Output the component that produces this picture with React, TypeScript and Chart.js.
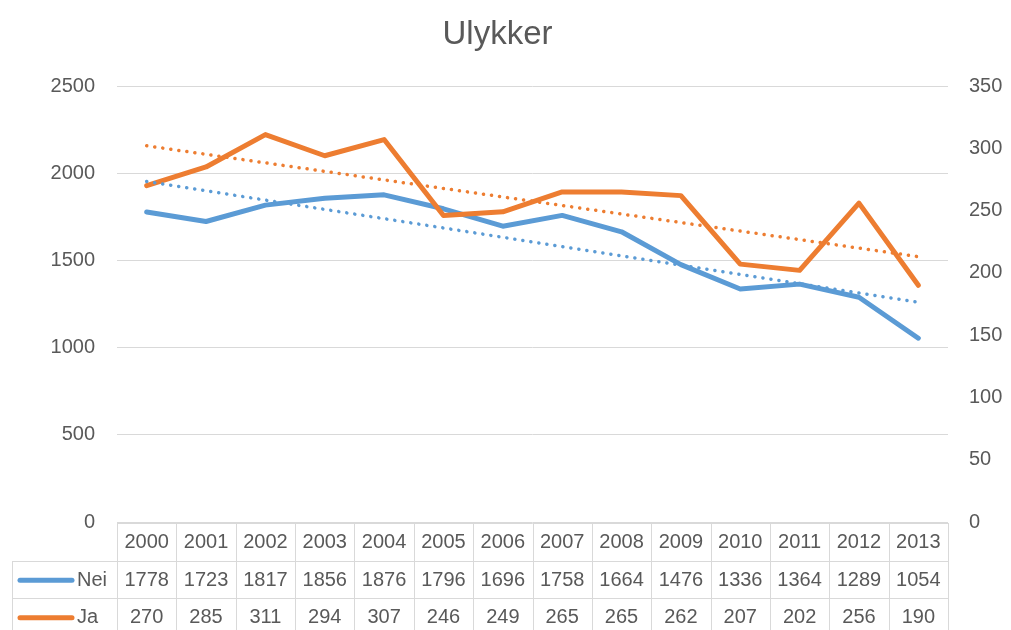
import React, { useEffect, useRef } from "react";
import { Chart, registerables } from "chart.js";

Chart.register(...registerables);

const title = "Ulykker";
const years = ["2000","2001","2002","2003","2004","2005","2006","2007","2008","2009","2010","2011","2012","2013"];
const nei = [1778,1723,1817,1856,1876,1796,1696,1758,1664,1476,1336,1364,1289,1054];
const ja = [270,285,311,294,307,246,249,265,265,262,207,202,256,190];
// trendline endpoints (first and last year)
const neiTrend = [1952, 1260];
const jaTrend = [302, 213];

const BLUE = "#5B9BD5";
const ORANGE = "#ED7D31";
const GRID = "#D9D9D9";
const TEXT = "#595959";
const FONT = "'Liberation Sans', 'DejaVu Sans', sans-serif";

const tablePlugin = {
  id: "dataTable",
  afterDraw(chart: any) {
    const ctx = chart.ctx;
    const area = chart.chartArea;
    const xs = chart.scales.x;
    const n = years.length;
    const colW = (area.right - area.left) / n;
    const top = area.bottom + 1;
    const rowH = 37.5;
    const legendLeft = 12;
    ctx.save();
    // title
    ctx.fillStyle = TEXT;
    ctx.font = `33px ${FONT}`;
    ctx.textAlign = "center";
    ctx.textBaseline = "middle";
    ctx.fillText(title, (area.left + area.right) / 2 - 35, 35);

    ctx.strokeStyle = GRID;
    ctx.lineWidth = 1;
    ctx.beginPath();
    ctx.moveTo(area.left, top + 0.5);
    ctx.lineTo(area.right, top + 0.5);
    for (let r = 1; r <= 3; r++) {
      const y = Math.round(top + r * rowH) + 0.5;
      ctx.moveTo(legendLeft, y);
      ctx.lineTo(area.right, y);
    }
    for (let i = 0; i <= n; i++) {
      const x = Math.round(area.left + i * colW) + 0.5;
      ctx.moveTo(x, top);
      ctx.lineTo(x, top + 3 * rowH + 5);
    }
    ctx.moveTo(legendLeft + 0.5, Math.round(top + rowH));
    ctx.lineTo(legendLeft + 0.5, top + 3 * rowH + 5);
    ctx.stroke();

    ctx.fillStyle = TEXT;
    ctx.font = `20px ${FONT}`;
    ctx.textAlign = "center";
    ctx.textBaseline = "middle";
    const rows = [years.map(String), nei.map(String), ja.map(String)];
    rows.forEach((row, r) => {
      const cy = top + r * rowH + rowH / 2 + 1;
      row.forEach((t, i) => {
        const cx = xs.getPixelForValue(i);
        ctx.fillText(t, cx, cy);
      });
    });
    const keys = [
      { label: "Nei", color: BLUE },
      { label: "Ja", color: ORANGE },
    ];
    keys.forEach((k, j) => {
      const cy = top + (j + 1) * rowH + rowH / 2 + 1;
      ctx.strokeStyle = k.color;
      ctx.lineWidth = 5;
      ctx.lineCap = "round";
      ctx.beginPath();
      ctx.moveTo(20, cy);
      ctx.lineTo(72, cy);
      ctx.stroke();
      ctx.textAlign = "left";
      ctx.fillStyle = TEXT;
      ctx.fillText(k.label, 77, cy);
    });
    ctx.restore();
  },
};

export default function App() {
  const ref = useRef<HTMLCanvasElement>(null);
  useEffect(() => {
    document.body.style.margin = "0";
    const chart = new Chart(ref.current!, {
      type: "line",
      data: {
        labels: years,
        datasets: [
          {
            label: "Trend Ja",
            data: [
              { x: years[0], y: jaTrend[0] },
              { x: years[years.length - 1], y: jaTrend[1] },
            ] as any,
            yAxisID: "y1",
            borderColor: ORANGE,
            borderWidth: 3.5,
            borderDash: [0.1, 8],
            borderCapStyle: "round",
            pointRadius: 0,
            order: 0,
          },
          {
            label: "Trend Nei",
            data: [
              { x: years[0], y: neiTrend[0] },
              { x: years[years.length - 1], y: neiTrend[1] },
            ] as any,
            yAxisID: "y",
            borderColor: BLUE,
            borderWidth: 3.5,
            borderDash: [0.1, 8],
            borderCapStyle: "round",
            pointRadius: 0,
            order: 1,
          },
          {
            label: "Ja",
            data: ja,
            yAxisID: "y1",
            borderColor: ORANGE,
            borderWidth: 5,
            borderCapStyle: "round",
            borderJoinStyle: "round",
            pointRadius: 0,
            tension: 0,
            order: 2,
          },
          {
            label: "Nei",
            data: nei,
            yAxisID: "y",
            borderColor: BLUE,
            borderWidth: 5,
            borderCapStyle: "round",
            borderJoinStyle: "round",
            pointRadius: 0,
            tension: 0,
            order: 3,
          },
        ],
      },
      options: {
        responsive: false,
        animation: false,
        layout: { padding: { left: 0, right: 0, top: 86, bottom: 108 } },
        plugins: {
          legend: { display: false },
          tooltip: { enabled: false },
          title: { display: false },
        },
        scales: {
          x: {
            type: "category",
            display: false,
            offset: true,
          },
          y: {
            position: "left",
            min: 0,
            max: 2500,
            ticks: {
              stepSize: 500,
              color: TEXT,
              font: { family: FONT, size: 20 },
              padding: 22,
              callback: (v: any) => String(v),
            },
            grid: { color: GRID, drawTicks: false, tickLength: 0 },
            border: { display: false },
            afterFit: (s: any) => { s.width = 117; },
          },
          y1: {
            position: "right",
            min: 0,
            max: 350,
            ticks: {
              stepSize: 50,
              color: TEXT,
              font: { family: FONT, size: 20 },
              padding: 21,
              callback: (v: any) => String(v),
            },
            grid: { display: false, drawTicks: false, tickLength: 0 },
            border: { display: false },
            afterFit: (s: any) => { s.width = 63; },
          },
        },
      },
      plugins: [tablePlugin],
    });
    return () => chart.destroy();
  }, []);
  return (
    <div style={{ position: "absolute", left: 0, top: 0, width: 1011, height: 630, background: "#fff" }}>
      <canvas ref={ref} width={1011} height={630} />
    </div>
  );
}
